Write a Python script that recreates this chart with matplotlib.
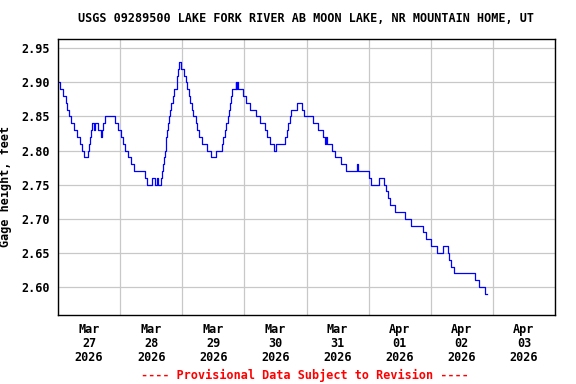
import numpy as np
import matplotlib
matplotlib.use("Agg")
import matplotlib.pyplot as plt
import matplotlib.dates as mdates

# gage height readings: hours after 2026-03-27 00:00, value held until next reading
hours = [0.0, 0.6, 1.9, 3.0, 3.6, 4.3, 5.2, 6.2, 7.3, 8.4,
         9.4, 10.2, 11.5, 12.0, 12.4, 12.8, 13.0, 14.0, 14.3, 15.6,
         16.6, 16.9, 17.4, 18.0, 22.1, 23.1, 24.4, 25.2, 26.0, 27.0,
         28.3, 29.5, 33.5, 34.5, 36.5, 37.4, 38.1, 38.5, 39.6, 40.1,
         40.6, 40.9, 41.3, 41.7, 41.9, 42.3, 42.6, 42.9, 43.2, 43.5,
         44.5, 45.0, 45.8, 46.1, 46.4, 46.8, 47.5, 48.8, 49.4, 50.0,
         50.5, 51.0, 51.7, 52.3, 53.2, 53.8, 54.6, 55.6, 57.7, 59.2,
         61.2, 63.4, 63.9, 64.5, 65.1, 65.6, 66.1, 66.5, 66.9, 67.4,
         68.6, 68.9, 69.2, 69.5, 71.6, 72.5, 74.2, 76.4, 78.0, 80.0,
         80.9, 81.9, 83.6, 84.1, 87.7, 88.3, 88.9, 89.6, 90.2, 92.2,
         94.3, 95.1, 98.4, 100.3, 102.2, 103.3, 103.6, 103.9, 105.8, 106.9,
         109.4, 111.3, 115.7, 116.0, 120.0, 121.0, 123.9, 126.0, 126.9, 127.4,
         128.2, 130.3, 134.2, 136.3, 141.0, 142.3, 144.2, 146.5, 148.6, 150.6,
         151.2, 152.0, 153.0, 161.2, 162.6, 165.0, 165.8]
gage = [2.90, 2.89, 2.88, 2.87, 2.86, 2.85, 2.84, 2.83, 2.82, 2.81,
        2.80, 2.79, 2.80, 2.81, 2.82, 2.83, 2.84, 2.83, 2.84, 2.83,
        2.82, 2.83, 2.84, 2.85, 2.84, 2.83, 2.82, 2.81, 2.80, 2.79,
        2.78, 2.77, 2.76, 2.75, 2.76, 2.75, 2.76, 2.75, 2.76, 2.77,
        2.78, 2.79, 2.80, 2.81, 2.82, 2.83, 2.84, 2.85, 2.86, 2.87,
        2.88, 2.89, 2.90, 2.91, 2.92, 2.93, 2.92, 2.91, 2.90, 2.89,
        2.88, 2.87, 2.86, 2.85, 2.84, 2.83, 2.82, 2.81, 2.80, 2.79,
        2.80, 2.81, 2.82, 2.83, 2.84, 2.85, 2.86, 2.87, 2.88, 2.89,
        2.90, 2.89, 2.90, 2.89, 2.88, 2.87, 2.86, 2.85, 2.84, 2.83,
        2.82, 2.81, 2.80, 2.81, 2.82, 2.83, 2.84, 2.85, 2.86, 2.87,
        2.86, 2.85, 2.84, 2.83, 2.82, 2.81, 2.82, 2.81, 2.80, 2.79,
        2.78, 2.77, 2.78, 2.77, 2.76, 2.75, 2.76, 2.75, 2.74, 2.73,
        2.72, 2.71, 2.70, 2.69, 2.68, 2.67, 2.66, 2.65, 2.66, 2.65,
        2.64, 2.63, 2.62, 2.61, 2.60, 2.59, 2.59]

yticks = [2.60, 2.65, 2.70, 2.75, 2.80, 2.85, 2.90, 2.95]
title = "USGS 09289500 LAKE FORK RIVER AB MOON LAKE, NR MOUNTAIN HOME, UT"
note = "---- Provisional Data Subject to Revision ----"

start = np.datetime64("2026-03-27T00:00")
times = start + (np.array(hours) * 60).astype("timedelta64[m]")

mono = "DejaVu Sans Mono"
fs = 8.5

fig = plt.figure(figsize=(5.76, 3.84), dpi=100)
ax = fig.add_axes([58 / 576, 1 - 315 / 384, (555 - 58) / 576, (315 - 39) / 384])

ax.step(times, gage, where="post", color="#0000ff", linewidth=0.9)

ax.set_xlim(start, start + np.timedelta64(8, "D"))
ax.set_ylim(2.559, 2.9635)

# gridlines at midnight, date labels at noon
ax.xaxis.set_major_locator(mdates.DayLocator())
ax.xaxis.set_major_formatter(plt.NullFormatter())
ax.xaxis.set_minor_locator(mdates.HourLocator(byhour=[12]))
ax.xaxis.set_minor_formatter(mdates.DateFormatter("%b\n%d\n%Y"))
ax.tick_params(axis="x", which="both", length=0, pad=6)
ax.set_yticks(yticks)
ax.set_yticklabels([f"{v:.2f}" for v in yticks])
ax.tick_params(axis="y", length=0, pad=6)

for lab in ax.get_xticklabels(minor=True) + ax.get_yticklabels():
    lab.set_fontfamily(mono)
    lab.set_fontweight("bold")
    lab.set_fontsize(fs)
for lab in ax.get_xticklabels(minor=True):
    lab.set_linespacing(1.1)

ax.grid(True, which="major", color="#c8c8c8", linewidth=0.9)
ax.set_axisbelow(True)
for sp in ax.spines.values():
    sp.set_linewidth(1.0)
    sp.set_color("black")

ax.set_ylabel("Gage height, feet", family=mono, fontweight="bold", fontsize=fs)
ax.yaxis.set_label_coords(-0.0926, 0.465)
fig.text(0.532, 1 - 19 / 384, title, ha="center", va="center",
         family=mono, fontweight="bold", fontsize=fs)
fig.text(0.53, 1 - 375 / 384, note, ha="center", va="center",
         family=mono, fontweight="bold", fontsize=fs, color="red")

fig.savefig("out.png", dpi=100)
